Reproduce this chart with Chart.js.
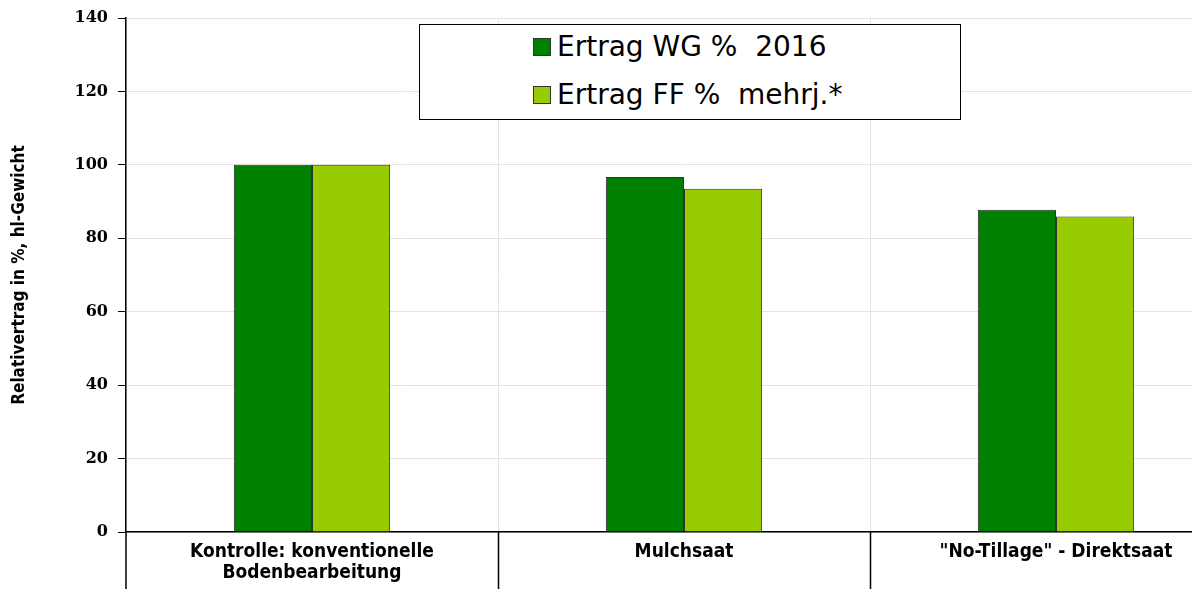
<!DOCTYPE html>
<html>
<head>
<meta charset="utf-8">
<script src="https://cdn.jsdelivr.net/npm/chart.js@4/dist/chart.umd.min.js"></script>
<style>
  html, body { margin: 0; padding: 0; background: #fff; overflow: hidden; }
  #wrap { position: relative; width: 1242px; height: 589px; }
  #legend {
    position: absolute; left: 419px; top: 24px; width: 540px; height: 94px;
    border: 1px solid #000; background: #fff; box-sizing: content-box;
    font-family: 'DejaVu Sans', Verdana, sans-serif; font-size: 28px; color: #000;
  }
  .item { position: absolute; left: 113px; height: 32px; line-height: 32px; white-space: pre; }
  .box { display: inline-block; width: 16px; height: 16px; border: 1px solid #333; margin-right: 6px; vertical-align: 0px; }
</style>
</head>
<body>
<div id="wrap">
  <canvas id="chart" width="1242" height="589"></canvas>
  <div id="legend"></div>
</div>
<script>
const categories = [['Kontrolle: konventionelle', 'Bodenbearbeitung'], 'Mulchsaat', '"No-Tillage" - Direktsaat']
const ertragWG = [100, 96.7, 87.8]
const ertragFF = [100, 93.5, 85.9]
const seriesLabels = ['Ertrag WG %  2016', 'Ertrag FF %  mehrj.*']
const seriesColors = ['#008000', '#99cc00']
const yTicks = [0, 20, 40, 60, 80, 100, 120, 140]

// lines below the x axis: y axis continues, category separators in black
const separators = {
    id: 'separators',
    afterDraw(chart) {
        const ctx = chart.ctx
        const x = chart.scales.x
        const area = chart.chartArea
        ctx.save()
        ctx.strokeStyle = '#000'
        ctx.lineWidth = 1.5
        ctx.beginPath()
        ctx.moveTo(area.left, area.bottom)
        ctx.lineTo(area.left, chart.height)
        for (let i = 1; i < categories.length; i++) {
            const px = Math.round((x.getPixelForValue(i - 1) + x.getPixelForValue(i)) / 2) + 0.5
            ctx.moveTo(px, area.bottom)
            ctx.lineTo(px, chart.height)
        }
        ctx.stroke()
        ctx.restore()
    }
}

const ctx = document.getElementById('chart').getContext('2d')
const chart = new Chart(ctx, {
    type: 'bar',
    data: {
        labels: categories,
        datasets: [{
            label: seriesLabels[0],
            data: ertragWG,
            backgroundColor: seriesColors[0],
            borderColor: '#333',
            borderWidth: 1
        }, {
            label: seriesLabels[1],
            data: ertragFF,
            backgroundColor: seriesColors[1],
            borderColor: '#333',
            borderWidth: 1
        }]
    },
    options: {
        responsive: false,
        animation: false,
        layout: { padding: { top: 11, left: 0, right: 0, bottom: 0 } },
        datasets: { bar: { categoryPercentage: 0.42, barPercentage: 1 } },
        plugins: {
            legend: { display: false },
            tooltip: { enabled: false }
        },
        scales: {
            y: {
                min: 0,
                max: 140,
                afterBuildTicks: (scale) => { scale.ticks = yTicks.map(v => ({ value: v })) },
                afterFit: (scale) => { scale.width = 126 },
                border: { color: '#000', width: 1.5 },
                grid: { color: '#e3e3e3', tickColor: '#000', tickLength: 8, lineWidth: 1 },
                ticks: {
                    color: '#000',
                    padding: 10,
                    font: { family: "'DejaVu Serif', serif", size: 16, weight: 'bold', lineHeight: 1 }
                },
                title: {
                    display: true,
                    text: 'Relativertrag in %, hl-Gewicht',
                    color: '#000',
                    padding: { top: 9, bottom: 0 },
                    font: { family: "'DejaVu Sans Condensed', 'Liberation Sans Narrow', sans-serif", size: 17, weight: 'bold' }
                }
            },
            x: {
                afterFit: (scale) => { scale.height = 57 },
                border: { color: '#000', width: 1.5 },
                grid: { offset: true, color: '#e3e3e3', drawTicks: false },
                ticks: {
                    color: '#000',
                    padding: 10,
                    maxRotation: 0,
                    font: { family: "'DejaVu Sans Condensed', 'Liberation Sans Narrow', sans-serif", size: 19, weight: 'bold', lineHeight: 1.1 }
                }
            }
        }
    },
    plugins: [separators]
})

// legend box drawn as html from the dataset labels and colours
const legend = document.getElementById('legend')
chart.data.datasets.forEach((ds, i) => {
    const row = document.createElement('div')
    row.className = 'item'
    row.style.top = (6 + i * 48) + 'px'
    const box = document.createElement('span')
    box.className = 'box'
    box.style.background = ds.backgroundColor
    row.appendChild(box)
    row.appendChild(document.createTextNode(ds.label))
    legend.appendChild(row)
})
</script>
</body>
</html>
